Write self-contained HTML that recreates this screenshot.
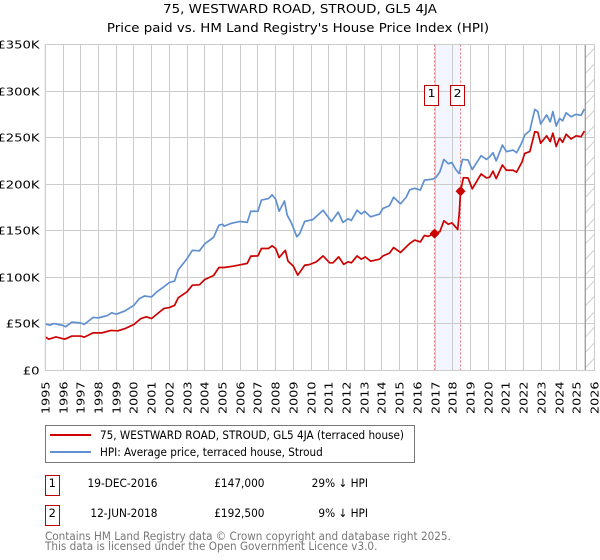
<!DOCTYPE html>
<html lang="en">
<head>
<meta charset="utf-8">
<title>75, WESTWARD ROAD, STROUD, GL5 4JA</title>
<style>
html,body{margin:0;padding:0;background:#fff;width:600px;height:560px;overflow:hidden}
svg{display:block;font-family:"DejaVu Sans","Liberation Sans",sans-serif;font-size:12px;fill:#000}
.ttl{font-size:12.5px}
.leg{font-size:11.8px}
.tab{font-size:11.5px}
.foot{font-size:11.8px;fill:#777}
</style>
</head>
<body>
<svg id="chart" xmlns="http://www.w3.org/2000/svg" width="600" height="560" viewBox="0 0 600 560">
<defs>
<pattern id="hatch" patternUnits="userSpaceOnUse" width="9" height="15.5">
<line x1="-1" y1="13" x2="10" y2="1" stroke="#cfcfcf" stroke-width="1"/>
</pattern>
</defs>
<text class="ttl" transform="translate(300,13) scale(1.07,1)" text-anchor="middle">75, WESTWARD ROAD, STROUD, GL5 4JA</text>
<text class="ttl" transform="translate(298,32) scale(1.07,1)" text-anchor="middle">Price paid vs. HM Land Registry's House Price Index (HPI)</text>
<g id="plot"></g>

<g>
<rect x="45.5" y="425.5" width="369" height="37" fill="#fff" stroke="#777" stroke-width="1"/>
<line x1="50" y1="435" x2="91" y2="435" stroke="#cc0000" stroke-width="2"/>
<text class="leg" transform="translate(100,439) scale(.886,1)">75, WESTWARD ROAD, STROUD, GL5 4JA (terraced house)</text>
<line x1="50" y1="452" x2="91" y2="452" stroke="#6090d0" stroke-width="2"/>
<text class="leg" transform="translate(100,456) scale(.886,1)">HPI: Average price, terraced house, Stroud</text>
</g>

<g>
<rect x="45.5" y="475.5" width="14" height="20" fill="#fff" stroke="#c00000" stroke-width="1"/>
<text class="tab" x="52.3" y="487" text-anchor="middle">1</text>
<text class="tab" transform="translate(157.5,487) scale(.918,1)" text-anchor="end">19-DEC-2016</text>
<text class="tab" transform="translate(264.5,487) scale(.918,1)" text-anchor="end">£147,000</text>
<text class="tab" transform="translate(368,487) scale(.918,1)" text-anchor="end">29% ↓ HPI</text>
</g>
<g>
<rect x="45.5" y="505.5" width="14" height="20" fill="#fff" stroke="#c00000" stroke-width="1"/>
<text class="tab" x="52.3" y="517" text-anchor="middle">2</text>
<text class="tab" transform="translate(157.5,517) scale(.918,1)" text-anchor="end">12-JUN-2018</text>
<text class="tab" transform="translate(264.5,517) scale(.918,1)" text-anchor="end">£192,500</text>
<text class="tab" transform="translate(368,517) scale(.918,1)" text-anchor="end">9% ↓ HPI</text>
</g>
<text class="foot" transform="translate(45,540) scale(.886,1)">Contains HM Land Registry data © Crown copyright and database right 2025.</text>
<text class="foot" transform="translate(45,550) scale(.886,1)">This data is licensed under the Open Government Licence v3.0.</text>
</svg>
<script>
const yearTicks = [1995,1996,1997,1998,1999,2000,2001,2002,2003,2004,2005,2006,2007,2008,2009,2010,2011,2012,2013,2014,2015,2016,2017,2018,2019,2020,2021,2022,2023,2024,2025,2026];
const valueTicks = [0,50,100,150,200,250,300,350];
const valueTickLabels = ['£0','£50K','£100K','£150K','£200K','£250K','£300K','£350K'];

const hpiDates = [1995,1995.25,1995.5,1996,1996.15,1996.5,1997,1997.2,1997.7,1998,1998.5,1998.75,1999,1999.5,2000,2000.3,2000.6,2001,2001.3,2001.7,2002,2002.3,2002.5,2003,2003.3,2003.7,2004,2004.5,2004.8,2005,2005.1,2005.5,2006,2006.4,2006.6,2007,2007.2,2007.6,2007.8,2008,2008.2,2008.5,2008.65,2008.9,2009.2,2009.36,2009.64,2010.1,2010.68,2011.15,2011.53,2011.8,2012.1,2012.27,2012.6,2012.84,2013.03,2013.36,2013.87,2014.06,2014.43,2014.66,2015.05,2015.37,2015.57,2015.85,2016.17,2016.4,2016.9,2017.08,2017.27,2017.5,2017.75,2017.95,2018.17,2018.36,2018.55,2018.86,2019.1,2019.6,2019.9,2020.08,2020.27,2020.45,2020.8,2021.03,2021.4,2021.6,2021.9,2022.06,2022.35,2022.63,2022.8,2022.96,2023.3,2023.5,2023.65,2023.84,2024.03,2024.2,2024.4,2024.68,2024.96,2025.24,2025.43];
const hpiValues = [50,48.7,50.4,48.3,47,52,51,49.5,57,56.5,59,62,60.5,64,70,77,80,79,84.5,90,94.5,96,108,120,129,128.5,136,143,156,157,155,158,160,159,171,171,183,184.6,188.6,184,171,182,167,158,143.5,147,160,162,172,160,170,159,163,161,172,168,171,165,168,174,177,186,179,186,194,195.6,193.7,204.4,205.5,208,213.3,226.6,222,223.3,215.8,211.5,226.6,226,215.8,230.6,226.6,229.5,233.8,225,242,235,236.6,233.8,244.6,252.8,257.5,280.4,278,264.7,274.4,267,278,262.4,270.7,268,276.7,272.4,275,274,280.7];

const priceDates = [1995,1995.2,1995.6,1996.1,1996.5,1997,1997.2,1997.7,1998.2,1998.7,1999.1,1999.5,2000,2000.4,2000.7,2001,2001.3,2001.7,2002,2002.3,2002.5,2003,2003.3,2003.7,2004,2004.5,2004.8,2005.1,2005.6,2006,2006.4,2006.6,2007,2007.2,2007.6,2007.8,2008,2008.2,2008.55,2008.7,2009,2009.25,2009.45,2009.64,2009.93,2010.3,2010.68,2011.05,2011.24,2011.56,2011.84,2012.1,2012.28,2012.6,2012.84,2013.06,2013.36,2013.87,2014.06,2014.43,2014.66,2015.05,2015.57,2015.85,2016.17,2016.4,2016.6,2016.97,2017.27,2017.5,2017.75,2017.95,2018.28,2018.37,2018.44,2018.6,2018.86,2019.1,2019.6,2019.9,2020.08,2020.27,2020.45,2020.8,2021.03,2021.4,2021.6,2021.9,2022.06,2022.35,2022.63,2022.8,2022.96,2023.3,2023.5,2023.65,2023.84,2024.03,2024.2,2024.4,2024.68,2024.96,2025.24,2025.43];
const priceValues = [36,33.6,36,33.6,37,37,35.8,40.4,40.4,43,42.6,45,49.4,55.8,57.6,55.8,60.5,66.6,67.6,70,78,84.5,91.6,92,97.7,102,110.6,110.6,112,113.5,115,122.8,123,131,131,133.9,131,121.3,129,117.4,112,102.4,107.7,113,113.8,116.7,123,115.6,115.6,122,114,116.7,115.6,123,119.5,122,117.4,119.5,123,126,132,126.7,136.4,140,138,145,144,147,149,160.7,157,158.5,151.4,170,192.5,207,206.7,195,211,206.7,207.5,214,206,220.6,215,215,213,223.5,233,235,256.4,255.7,244,252,245.7,254.8,240.5,249.5,245,253.6,248.6,252,251,257];

const saleDates = [2016.97,2018.44];
const saleValues = [147,192.5];
const saleLabels = ['1','2'];
const dataEndDate = 2025.48;

const NS = 'http://www.w3.org/2000/svg';
const plot = document.getElementById('plot');
const left = 45.3, right = 594.5, top_ = 44.5, bottom = 370.5;
function xScale(year){ return left + (year - 1995) * (right - left) / 31; }
function yScale(v){ return bottom - v * (bottom - top_) / 350; }
function crisp(v){ return Math.floor(v) + 0.5; }
function make(tag, attrs){
  const el = document.createElementNS(NS, tag);
  for (const k in attrs) el.setAttribute(k, attrs[k]);
  plot.appendChild(el);
  return el;
}
function pathFrom(dates, values){
  return dates.map(function(d, i){ return (i ? 'L' : 'M') + xScale(d).toFixed(2) + ' ' + yScale(values[i]).toFixed(2); }).join(' ');
}

const shade = make('rect', {x: xScale(saleDates[0]), y: top_, width: xScale(saleDates[1]) - xScale(saleDates[0]), height: bottom - top_, fill: '#f3f6fe'});



const hatch = make('rect', {x: xScale(dataEndDate), y: top_, width: right - xScale(dataEndDate), height: bottom - top_, fill: 'url(#hatch)'});



yearTicks.forEach(function(y){
  const px = crisp(xScale(y));
  const line = make('line', {x1: px, x2: px, y1: top_, y2: bottom, stroke: '#cccccc', 'stroke-width': 1});
  
  
  const label = make('text', {transform: 'translate(' + (px + 4) + ',381.5) rotate(-90) scale(1.16,1)', 'text-anchor': 'end', 'font-size': 11});
  label.textContent = y;
  
  
});

valueTicks.forEach(function(v, i){
  const py = crisp(yScale(v));
  const line = make('line', {x1: left, x2: right, y1: py, y2: py, stroke: '#cccccc', 'stroke-width': 1});
  
  
  const label = make('text', {transform: 'translate(39.5,' + (py + 4) + ') scale(1.2,1)', 'text-anchor': 'end', 'font-size': 11});
  label.textContent = valueTickLabels[i];
  
  
});

const endLine = make('line', {x1: xScale(dataEndDate), x2: xScale(dataEndDate), y1: top_, y2: bottom, stroke: '#999999', 'stroke-width': 1.3});



saleDates.forEach(function(d){
  const sx = xScale(d);
  const line = make('line', {x1: sx, x2: sx, y1: top_, y2: bottom, stroke: '#f07070', 'stroke-width': 1, 'stroke-dasharray': '2 2'});
  
  
});

const hpiLine = make('path', {d: pathFrom(hpiDates, hpiValues), fill: 'none', stroke: '#6090d0', 'stroke-width': 1.7, 'stroke-linejoin': 'round'});



const priceLine = make('path', {d: pathFrom(priceDates, priceValues), fill: 'none', stroke: '#cc0000', 'stroke-width': 1.7, 'stroke-linejoin': 'round'});



saleDates.forEach(function(d, i){
  const sx = xScale(d), sy = yScale(saleValues[i]);
  const point = make('polygon', {points: [[sx, sy - 5], [sx + 5, sy], [sx, sy + 5], [sx - 5, sy]].join(' '), fill: '#cc0000'});
  
  
  const dot = make('circle', {cx: sx, cy: sy, r: 3.6, fill: '#cc0000'});
  
  
  const bx = Math.floor(sx - 10.5) + 0.5;
  const badge = make('rect', {x: bx, y: 85.5, width: 14, height: 20, fill: '#fff', stroke: '#c00000', 'stroke-width': 1});
  
  
  const num = make('text', {transform: 'translate(' + (bx + 7) + ',97) scale(1.16,1)', 'text-anchor': 'middle', 'font-size': 11});
  num.textContent = saleLabels[i];
  
  
});

const frame = make('rect', {x: left, y: top_, width: right - left, height: bottom - top_, fill: 'none', stroke: '#cccccc', 'stroke-width': 1});


</script>
</body>
</html>
